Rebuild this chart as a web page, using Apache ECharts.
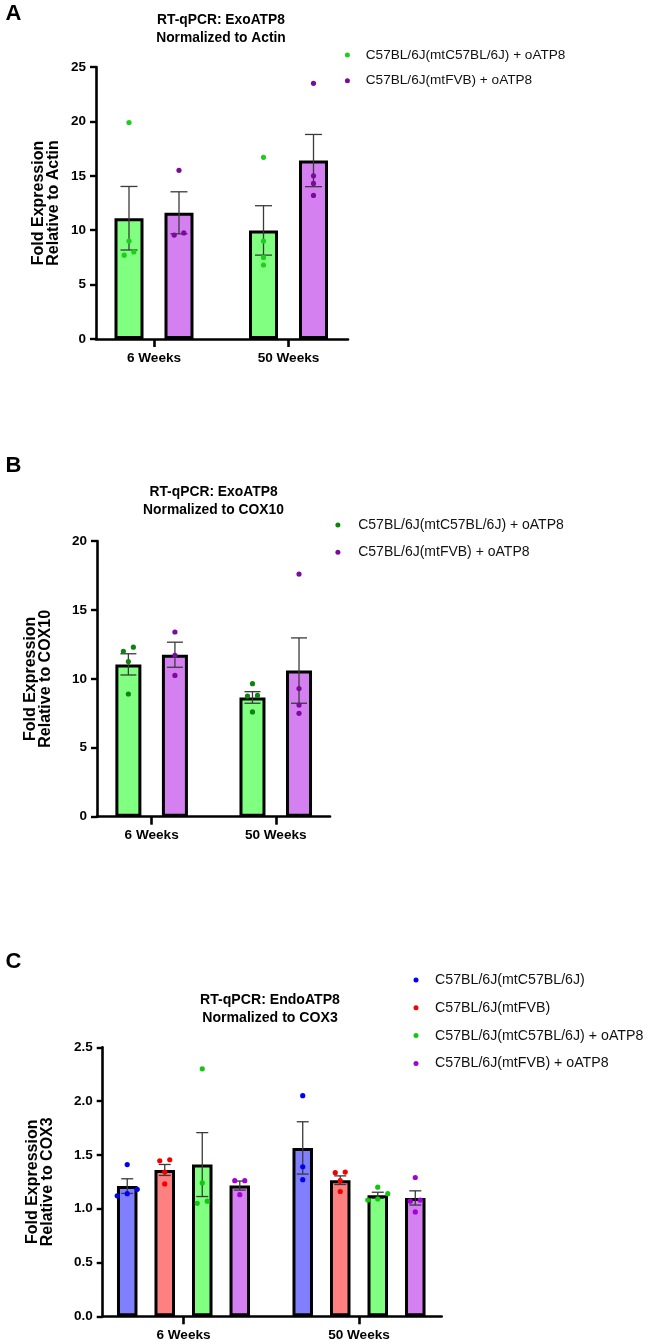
<!DOCTYPE html>
<html><head><meta charset="utf-8">
<script src="https://cdn.jsdelivr.net/npm/echarts@6/dist/echarts.min.js"></script>
<style>html,body{margin:0;padding:0;background:#fff}#c{width:660px;height:1344px}</style>
</head><body><div id="c"></div>
<script>
// ---------------- DATA ----------------
const categories = ['6 Weeks', '50 Weeks'];
const seriesNames = ['C57BL/6J(mtC57BL/6J)', 'C57BL/6J(mtFVB)', 'C57BL/6J(mtC57BL/6J) + oATP8', 'C57BL/6J(mtFVB) + oATP8'];

// Panel A
const titleA = ['RT-qPCR: ExoATP8', 'Normalized to Actin'];
const yNameA = 'Fold Expression\nRelative to Actin';
const yTicksA = [0, 5, 10, 15, 20, 25];
const aGreenMean = [11.1, 9.98];
const aGreenSem = [2.92, 2.27];
const aGreenPoints = [[19.9, 9.0, 7.7, 8.0], [16.7, 9.0, 7.5, 6.8]];
const aPurpleMean = [11.6, 16.4];
const aPurpleSem = [1.93, 2.4];
const aPurplePoints = [[15.5, 9.55, 9.75], [23.5, 15.0, 14.3, 13.2]];

// Panel B
const titleB = ['RT-qPCR: ExoATP8', 'Normalized to COX10'];
const yNameB = 'Fold Expression\nRelative to COX10';
const yTicksB = [0, 5, 10, 15, 20];
const bGreenMean = [11.05, 8.65];
const bGreenSem = [0.77, 0.42];
const bGreenPoints = [[12.0, 12.3, 11.25, 8.9], [9.65, 8.75, 8.8, 7.6]];
const bPurpleMean = [11.75, 10.6];
const bPurpleSem = [0.91, 2.37];
const bPurplePoints = [[13.4, 11.7, 10.25], [17.6, 9.3, 8.1, 7.5]];

// Panel C
const titleC = ['RT-qPCR: EndoATP8', 'Normalized to COX3'];
const yNameC = 'Fold Expression\nRelative to COX3';
const yTicksC = [0.0, 0.5, 1.0, 1.5, 2.0, 2.5];
const cBlueMean = [1.21, 1.565];
const cBlueSem = [0.068, 0.243];
const cBluePoints = [[1.41, 1.18, 1.12, 1.14], [2.05, 1.39, 1.27]];
const cRedMean = [1.36, 1.265];
const cRedSem = [0.051, 0.04];
const cRedPoints = [[1.445, 1.455, 1.34, 1.23], [1.335, 1.34, 1.26, 1.16]];
const cGreenMean = [1.41, 1.125];
const cGreenSem = [0.297, 0.028];
const cGreenPoints = [[2.30, 1.24, 1.05, 1.07], [1.20, 1.14, 1.08, 1.09]];
const cPurpleMean = [1.215, 1.10];
const cPurpleSem = [0.042, 0.066];
const cPurplePoints = [[1.26, 1.26, 1.13], [1.29, 1.08, 1.07, 0.97]];

// ---------------- STYLE / LAYOUT ----------------
const FONT = '"Liberation Sans", Arial, Helvetica, sans-serif';
const FILL = {green: '#80ff80', purple: '#d580f0', blue: '#8080ff', red: '#ff8080'};

const panels = [
  {
    title: titleA, titleX: 221, titleY: [20, 37.7], titleSize: 13.8,
    letter: 'A', letterY: 14,
    yName: yNameA, yTicks: yTicksA, fmt: v => String(v),
    axisRect: {left: 96, top: 67, width: 252, height: 272},
    dataRect: {left: 86.75, width: 269},
    barW: 29, gap: 0.724, cap: 17, spread: 9.6, nameGap: 35,
    groups: [
      {name: seriesNames[2], mean: aGreenMean, sem: aGreenSem, pts: aGreenPoints, fill: FILL.green, dot: '#1ccf1c'},
      {name: seriesNames[3], mean: aPurpleMean, sem: aPurpleSem, pts: aPurplePoints, fill: FILL.purple, dot: '#7a0b9c'}
    ],
    legend: {left: 344.9, top: 48, itemWidth: 26.8, itemGap: 11.7, fontSize: 13.6}
  },
  {
    title: titleB, titleX: 213.5, titleY: [491.7, 510], titleSize: 13.85,
    letter: 'B', letterY: 465.5,
    yName: yNameB, yTicks: yTicksB, fmt: v => String(v),
    axisRect: {left: 97, top: 541, width: 233, height: 275.7},
    dataRect: {left: 89.6, width: 248.2},
    barW: 26, gap: 0.79, cap: 16, spread: 10, nameGap: 44,
    groups: [
      {name: seriesNames[2], mean: bGreenMean, sem: bGreenSem, pts: bGreenPoints, fill: FILL.green, dot: '#0d850d'},
      {name: seriesNames[3], mean: bPurpleMean, sem: bPurpleSem, pts: bPurplePoints, fill: FILL.purple, dot: '#7a0b9c'}
    ],
    legend: {left: 335.4, top: 518, itemWidth: 30.6, itemGap: 13.3, fontSize: 14}
  },
  {
    title: titleC, titleX: 270, titleY: [1000, 1018.3], titleSize: 14.1,
    letter: 'C', letterY: 962,
    yName: yNameC, yTicks: yTicksC, fmt: v => v.toFixed(1),
    axisRect: {left: 102.7, top: 1047.3, width: 339, height: 269},
    dataRect: {left: 95.75, width: 351},
    barW: 20.5, gap: 0.83, cap: 12, spread: 10, nameGap: 48,
    groups: [
      {name: seriesNames[0], mean: cBlueMean, sem: cBlueSem, pts: cBluePoints, fill: FILL.blue, dot: '#0000f5'},
      {name: seriesNames[1], mean: cRedMean, sem: cRedSem, pts: cRedPoints, fill: FILL.red, dot: '#f50000'},
      {name: seriesNames[2], mean: cGreenMean, sem: cGreenSem, pts: cGreenPoints, fill: FILL.green, dot: '#10c810'},
      {name: seriesNames[3], mean: cPurpleMean, sem: cPurpleSem, pts: cPurplePoints, fill: FILL.purple, dot: '#a300dc'}
    ],
    legend: {left: 413.5, top: 973, itemWidth: 28, itemGap: 13.8, fontSize: 14.2}
  }
];

// ---------------- BUILD ----------------
const grid = [], xAxis = [], yAxis = [], series = [], legend = [], graphic = [];

function errRender(offset, cap) {
  return function (params, api) {
    const cat = api.value(0), m = api.value(1), s = api.value(2);
    const x = api.coord([cat, m])[0] + offset;
    const yt = api.coord([cat, m + s])[1];
    const yb = api.coord([cat, m - s])[1];
    const st = {stroke: '#3a3a3a', lineWidth: 1.3};
    return {type: 'group', children: [
      {type: 'line', shape: {x1: x, y1: yt, x2: x, y2: yb}, style: st},
      {type: 'line', shape: {x1: x - cap / 2, y1: yt, x2: x + cap / 2, y2: yt}, style: st},
      {type: 'line', shape: {x1: x - cap / 2, y1: yb, x2: x + cap / 2, y2: yb}, style: st}
    ]};
  };
}

function dotRender(offset, pts, spread, color) {
  return function (params, api) {
    const cat = api.value(0), v = api.value(1), j = api.value(2);
    const group = pts[cat];
    const ys = group.map(u => api.coord([cat, u])[1]);
    const order = group.map((u, k) => k).sort((a, b) => group[a] - group[b]);
    const clusters = [];
    let cur = [order[0]];
    for (let k = 1; k < order.length; k++) {
      if (Math.abs(ys[order[k]] - ys[order[k - 1]]) < 6) cur.push(order[k]);
      else { clusters.push(cur); cur = [order[k]]; }
    }
    clusters.push(cur);
    let dx = 0;
    clusters.forEach(cl => {
      const i = cl.indexOf(j);
      if (i >= 0) dx = (i - (cl.length - 1) / 2) * spread;
    });
    const c = api.coord([cat, v]);
    return {type: 'circle', shape: {cx: c[0] + offset + dx, cy: c[1], r: 2.6}, style: {fill: color}};
  };
}

panels.forEach((p, pi) => {
  const ar = p.axisRect;
  const gAxis = grid.length;
  grid.push({left: ar.left, top: ar.top, width: ar.width, height: ar.height});
  const gData = grid.length;
  grid.push({left: p.dataRect.left, top: ar.top, width: p.dataRect.width, height: ar.height});
  const yMin = p.yTicks[0], yMax = p.yTicks[p.yTicks.length - 1], yInt = p.yTicks[1] - p.yTicks[0];

  // axis-line grid
  xAxis.push({gridIndex: gAxis, type: 'value', min: 0, max: 1,
    axisLine: {show: true, lineStyle: {color: '#000', width: 2.6}},
    axisTick: {show: false}, axisLabel: {show: false}, splitLine: {show: false}});
  yAxis.push({gridIndex: gAxis, type: 'value', min: yMin, max: yMax, interval: yInt,
    axisLine: {show: true, lineStyle: {color: '#000', width: 2.6}},
    axisTick: {show: true, length: 6, lineStyle: {color: '#000', width: 2.4}},
    axisLabel: {color: '#000', fontSize: 13.5, fontWeight: 'bold', fontFamily: FONT, margin: 10, formatter: p.fmt},
    splitLine: {show: false},
    name: p.yName, nameLocation: 'middle', nameGap: p.nameGap,
    nameTextStyle: {color: '#000', fontSize: 16, fontWeight: 'bold', fontFamily: FONT, lineHeight: 15}
  });

  // data grid
  const xd = xAxis.length;
  xAxis.push({gridIndex: gData, type: 'category', data: categories,
    axisLine: {show: false},
    axisTick: {show: true, alignWithLabel: true, length: 8, lineStyle: {color: '#000', width: 2.6}},
    axisLabel: {color: '#000', fontSize: 13.6, fontWeight: 'bold', fontFamily: FONT, margin: 12},
    splitLine: {show: false}});
  const yd = yAxis.length;
  yAxis.push({gridIndex: gData, type: 'value', min: yMin, max: yMax, interval: yInt, show: false});

  const n = p.groups.length;
  p.groups.forEach((g, gi) => {
    const offset = (gi - (n - 1) / 2) * p.barW * (1 + p.gap);
    series.push({
      type: 'bar', name: g.name + ' (mean)', xAxisIndex: xd, yAxisIndex: yd,
      data: g.mean, barWidth: p.barW, barGap: (p.gap * 100) + '%',
      itemStyle: {color: g.fill, borderColor: '#000', borderWidth: 3},
      z: 2, silent: true, animation: false
    });
    series.push({
      type: 'custom', name: g.name + ' (SEM)', xAxisIndex: xd, yAxisIndex: yd,
      data: g.mean.map((m, k) => [k, m, g.sem[k]]),
      encode: {x: 0, y: 1},
      renderItem: errRender(offset, p.cap), z: 3, silent: true, animation: false
    });
    const flat = [];
    g.pts.forEach((arr, k) => arr.forEach((v, j) => flat.push([k, v, j])));
    series.push({
      type: 'custom', name: g.name, xAxisIndex: xd, yAxisIndex: yd,
      data: flat, encode: {x: 0, y: 1},
      itemStyle: {color: g.dot},
      renderItem: dotRender(offset, g.pts, p.spread, g.dot), z: 4, silent: true, animation: false
    });
  });

  legend.push({
    left: p.legend.left, top: p.legend.top, orient: 'vertical', padding: 0,
    itemWidth: p.legend.itemWidth, itemHeight: 5, itemGap: p.legend.itemGap, icon: 'circle',
    selectedMode: false,
    textStyle: {fontSize: p.legend.fontSize, fontFamily: FONT, color: '#111', lineHeight: 14},
    data: p.groups.map(g => ({name: g.name, itemStyle: {color: g.dot}}))
  });

  graphic.push({type: 'text', x: 5.5, y: p.letterY, style: {text: p.letter, font: 'bold 22px ' + FONT, fill: '#000', textAlign: 'left', textVerticalAlign: 'middle'}});
  p.title.forEach((t, k) => graphic.push({type: 'text', x: p.titleX, y: p.titleY[k],
    style: {text: t, font: 'bold ' + p.titleSize + 'px ' + FONT, fill: '#000', textAlign: 'center', textVerticalAlign: 'middle'}}));
});

const chart = echarts.init(document.getElementById('c'), null, {renderer: 'canvas'});
chart.setOption({
  backgroundColor: '#fff', animation: false,
  textStyle: {fontFamily: FONT},
  grid, xAxis, yAxis, series, legend, graphic
});
</script></body></html>
